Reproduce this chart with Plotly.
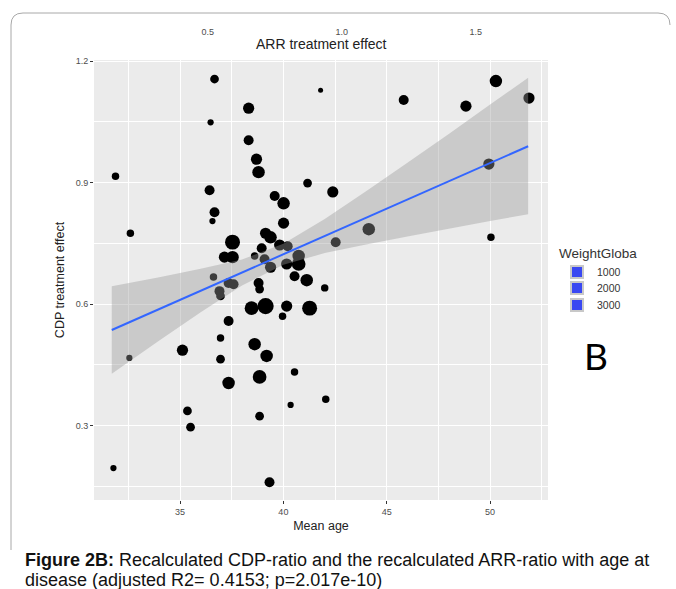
import plotly.graph_objects as go

# ---- data ----
mean_age = [36.67, 38.32, 36.48, 41.80, 38.32, 38.70, 38.80, 31.88, 36.43, 41.17,
            42.39, 39.58, 40.01, 36.67, 36.57, 40.01, 32.60, 39.14, 39.38, 37.54,
            38.95, 39.82, 40.21, 37.15, 37.54, 38.61, 39.09, 39.38, 40.16, 40.74,
            40.74, 36.62, 37.35, 37.59, 36.91, 36.96, 38.80, 38.85, 40.54, 41.13,
            42.00, 38.46, 39.14, 40.16, 41.27, 39.96, 37.35, 36.96, 38.61, 35.12,
            39.19, 32.55, 36.96, 40.54, 38.85, 37.35, 42.05, 40.35, 35.36, 38.85,
            35.51, 31.78, 39.33, 50.28, 45.82, 48.83, 51.88, 49.94, 44.13, 42.53,
            50.04]
cdp_effect = [1.156, 1.084, 1.049, 1.128, 1.005, 0.958, 0.926, 0.916, 0.881, 0.899,
              0.877, 0.867, 0.849, 0.827, 0.805, 0.800, 0.775, 0.775, 0.765, 0.753,
              0.738, 0.746, 0.743, 0.716, 0.716, 0.719, 0.711, 0.691, 0.699, 0.719,
              0.699, 0.667, 0.652, 0.649, 0.632, 0.620, 0.652, 0.637, 0.669, 0.659,
              0.640, 0.590, 0.595, 0.595, 0.590, 0.570, 0.558, 0.516, 0.501, 0.486,
              0.472, 0.467, 0.464, 0.432, 0.420, 0.405, 0.365, 0.351, 0.336, 0.323,
              0.296, 0.195, 0.160, 1.151, 1.104, 1.089, 1.109, 0.946, 0.785, 0.753,
              0.765]
weight_global = [880, 1450, 450, 290, 1140, 1450, 1790, 640, 1140, 880,
                 1450, 1140, 1790, 1140, 450, 1450, 640, 1450, 1790, 2570,
                 1140, 1450, 1140, 1450, 1790, 640, 1140, 1450, 1450, 1790,
                 2160, 640, 1140, 1140, 1140, 880, 1140, 880, 1140, 1790,
                 640, 2160, 3020, 1450, 2570, 640, 1140, 640, 1790, 1450,
                 1790, 450, 880, 640, 2160, 1790, 640, 450, 880, 880,
                 880, 450, 1140, 1790, 1140, 1450, 1450, 1450, 1790, 1140,
                 640]

fit_age = [31.7, 34, 36, 38, 40, 42, 44, 46, 48, 50, 51.84]
fit_mid = [0.536, 0.588, 0.633, 0.678, 0.723, 0.768, 0.813, 0.858, 0.903, 0.949, 0.990]
fit_upper = [0.644, 0.666, 0.687, 0.710, 0.749, 0.810, 0.879, 0.949, 1.020, 1.093, 1.159]
fit_lower = [0.428, 0.510, 0.580, 0.646, 0.697, 0.726, 0.747, 0.767, 0.786, 0.805, 0.822]

x_ticks = [35, 40, 45, 50]
x_minor = [32.5, 37.5, 42.5, 47.5, 52.5]
y_ticks = [0.3, 0.6, 0.9, 1.2]
y_minor = [0.15, 0.45, 0.75, 1.05]
arr_ticks = [0.5, 1.0, 1.5]
arr_labels = ["0.5", "1.0", "1.5"]
legend_weights = [1000, 2000, 3000]

# ---- figure ----
W, H = 676, 589
L, R, T, B = 94, 548, 60, 500


def px_x(p):
    return (p - L) / (R - L)


def px_y(p):
    return (B - p) / (B - T)


FONT = "Liberation Sans, Arial, sans-serif"

fig = go.Figure()

fig.add_trace(go.Scatter(
    x=mean_age, y=cdp_effect, mode="markers",
    marker=dict(color="black", size=weight_global, sizemode="area", opacity=1,
                sizeref=23, line=dict(width=0)),
    showlegend=False, hoverinfo="skip"))

fig.add_trace(go.Scatter(
    x=fit_age + fit_age[::-1], y=fit_upper + fit_lower[::-1],
    fill="toself", fillcolor="rgba(153,153,153,0.4)", mode="none",
    showlegend=False, hoverinfo="skip"))

fig.add_trace(go.Scatter(
    x=fit_age, y=fit_mid, mode="lines",
    line=dict(color="#3366FF", width=2), showlegend=False, hoverinfo="skip"))

# top axis dummy trace
fig.add_trace(go.Scatter(x=[None], y=[None], xaxis="x2", showlegend=False))

legend_names = ["legend", "legend2", "legend3"]
for w, lg in zip(legend_weights, legend_names):
    fig.add_trace(go.Scatter(
        x=[None], y=[None], mode="markers", name=str(w), legend=lg,
        marker=dict(symbol="square", size=12, color="#3A48F2",
                    line=dict(color="#C8C8C8", width=2.5))))

tick_font = dict(family=FONT, size=9, color="#4D4D4D")
title_font = dict(family=FONT, size=12.5, color="#222222")
leg_font = dict(family=FONT, size=10.5, color="#333333")
leg_x = px_x(557)

fig.update_layout(
    width=W, height=H,
    margin=dict(l=L, r=W - R, t=T, b=H - B, autoexpand=False),
    paper_bgcolor="white", plot_bgcolor="#EBEBEB",
    xaxis=dict(range=[30.84, 52.8], tickvals=x_ticks, ticks="outside", ticklen=3,
               tickcolor="#333333", tickfont=tick_font, showline=False, zeroline=False,
               gridcolor="white", gridwidth=1.3, automargin=False,
               minor=dict(tickvals=x_minor, showgrid=True, gridcolor="white", gridwidth=0.7, ticks=""),
               title=dict(text="Mean age", font=title_font, standoff=5)),
    xaxis2=dict(range=[0.075, 1.77], overlaying="x", side="top", tickvals=arr_ticks,
                ticktext=arr_labels, ticks="outside", ticklen=20, automargin=False,
                tickcolor="rgba(0,0,0,0)", tickfont=tick_font, showgrid=False,
                zeroline=False, showline=False),
    yaxis=dict(range=[0.116, 1.203], tickvals=y_ticks, ticks="outside", ticklen=3,
               tickcolor="#333333", tickfont=tick_font, showline=False, zeroline=False,
               gridcolor="white", gridwidth=1.3, automargin=False,
               minor=dict(tickvals=y_minor, showgrid=True, gridcolor="white", gridwidth=0.7, ticks=""),
               title=dict(text="CDP treatment effect", font=title_font, standoff=8)),
    legend=dict(x=leg_x, y=px_y(240), xanchor="left", yanchor="top",
                title=dict(text="WeightGloba", font=dict(family=FONT, size=13.5, color="#333333")),
                font=leg_font, bgcolor="rgba(0,0,0,0)", itemsizing="constant"),
    legend2=dict(x=leg_x, y=px_y(288), xanchor="left", yanchor="middle",
                 font=leg_font, bgcolor="rgba(0,0,0,0)", itemsizing="constant"),
    legend3=dict(x=leg_x, y=px_y(305), xanchor="left", yanchor="middle",
                 font=leg_font, bgcolor="rgba(0,0,0,0)", itemsizing="constant"),
    showlegend=True,
)

# top axis title
fig.add_annotation(text="ARR treatment effect", xref="paper", yref="paper",
                   x=0.5, y=px_y(44), xanchor="center", yanchor="middle", showarrow=False,
                   font=dict(family=FONT, size=14, color="#222222"))

# panel label
fig.add_annotation(text="B", xref="paper", yref="paper", x=px_x(596), y=px_y(355),
                   xanchor="center", yanchor="middle", showarrow=False,
                   font=dict(family="Lato, sans-serif", size=37, color="black"))

# caption
cap_font = dict(family=FONT, size=18, color="#111111")
fig.add_annotation(text="<b>Figure 2B:</b> Recalculated CDP-ratio and the recalculated ARR-ratio with age at",
                   xref="paper", yref="paper", x=px_x(23), y=px_y(560), xanchor="left",
                   yanchor="middle", showarrow=False, font=cap_font)
fig.add_annotation(text="disease (adjusted R2= 0.4153; p=2.017e-10)",
                   xref="paper", yref="paper", x=px_x(23), y=px_y(579.5), xanchor="left",
                   yanchor="middle", showarrow=False, font=cap_font)

# rounded frame around the chart
x0, x1, y0, y1, r = 11, 670, 13, 550, 12
path = (f"M {px_x(x0)} {px_y(y1)} L {px_x(x0)} {px_y(y0 + r)} "
        f"Q {px_x(x0)} {px_y(y0)} {px_x(x0 + r)} {px_y(y0)} "
        f"L {px_x(x1 - r)} {px_y(y0)} Q {px_x(x1)} {px_y(y0)} {px_x(x1)} {px_y(y0 + r)}")
fig.add_shape(type="path", path=path, xref="paper", yref="paper",
              line=dict(color="#A8A8A8", width=1))

fig.write_html("out.html", config={"displayModeBar": False},
               post_script="document.body.style.margin='0px';document.body.style.overflow='hidden';")
